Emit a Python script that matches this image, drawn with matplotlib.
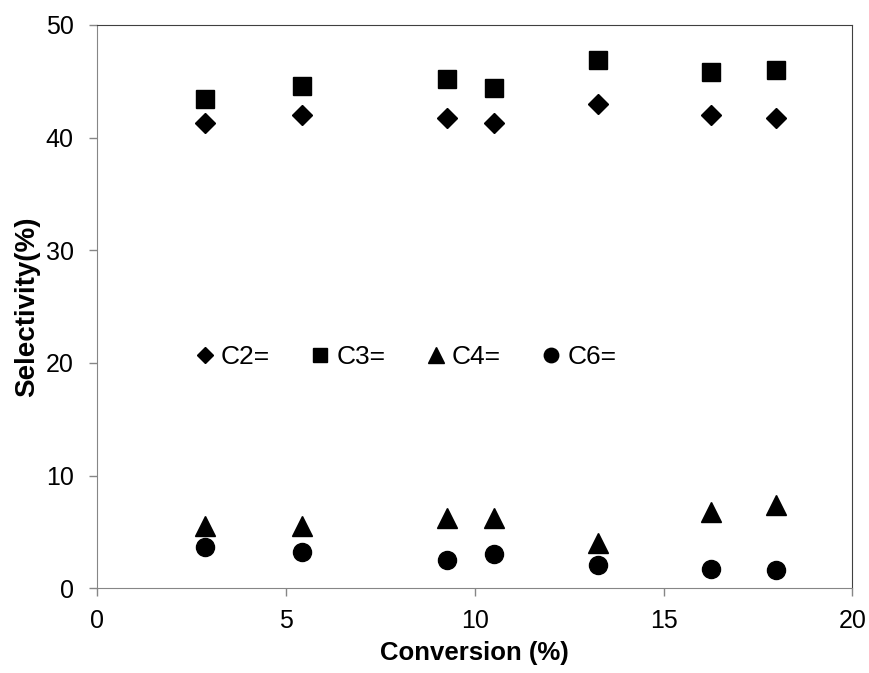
"""selectivity vs conversion scatter, excel-style look."""

import matplotlib
matplotlib.use("Agg")
import matplotlib.pyplot as plt

plt.rcParams['font.family'] = ['Liberation Sans', 'DejaVu Sans']

# data
conversion = [2.85, 5.41, 9.27, 10.51, 13.25, 16.25, 17.98]
c2 = [41.3, 42.0, 41.7, 41.3, 43.0, 42.0, 41.7]
c3 = [43.4, 44.6, 45.2, 44.4, 46.9, 45.8, 46.0]
c4 = [5.5, 5.55, 6.27, 6.27, 3.99, 6.8, 7.39]
c6 = [3.69, 3.25, 2.51, 3.04, 2.07, 1.69, 1.62]

series = [
    ("C2=", c2, "D", 10),
    ("C3=", c3, "s", 13),
    ("C4=", c4, "^", 13.7),
    ("C6=", c6, "o", 13),
]

fig = plt.figure(figsize=(8.7, 6.73), dpi=100)
ax = fig.add_axes([0.1118, 0.1259, 0.9797 - 0.1118, 0.9629 - 0.1259])

for label, vals, marker, ms in series:
    ax.plot(conversion, vals, linestyle='none', marker=marker, ms=ms,
            color='black', label=label)

ax.set_xlim(0, 20)
ax.set_ylim(0, 50)
ax.set_xticks([0, 5, 10, 15, 20])
ax.set_yticks([0, 10, 20, 30, 40, 50])

ax.tick_params(direction='out', length=6, width=1, color='#868686',
               labelsize=18)
ax.tick_params(axis='y', pad=11)
ax.tick_params(axis='x', pad=9)
for side in ['left', 'bottom']:
    ax.spines[side].set_color('#868686')
for side in ['top', 'right']:
    ax.spines[side].set_color('#404040')

ax.set_xlabel("Conversion (%)", fontsize=18.5, fontweight='bold', labelpad=6)
ax.set_ylabel("Selectivity(%)", fontsize=20, fontweight='bold', labelpad=4)

ax.legend(loc='center left', bbox_to_anchor=(0.196, 0.4695),
          bbox_transform=fig.transFigure, ncol=4, frameon=False,
          fontsize=19, markerscale=0.8, handlelength=0.8,
          handletextpad=0.2, columnspacing=1.52)

fig.savefig("out.png", dpi=100)
